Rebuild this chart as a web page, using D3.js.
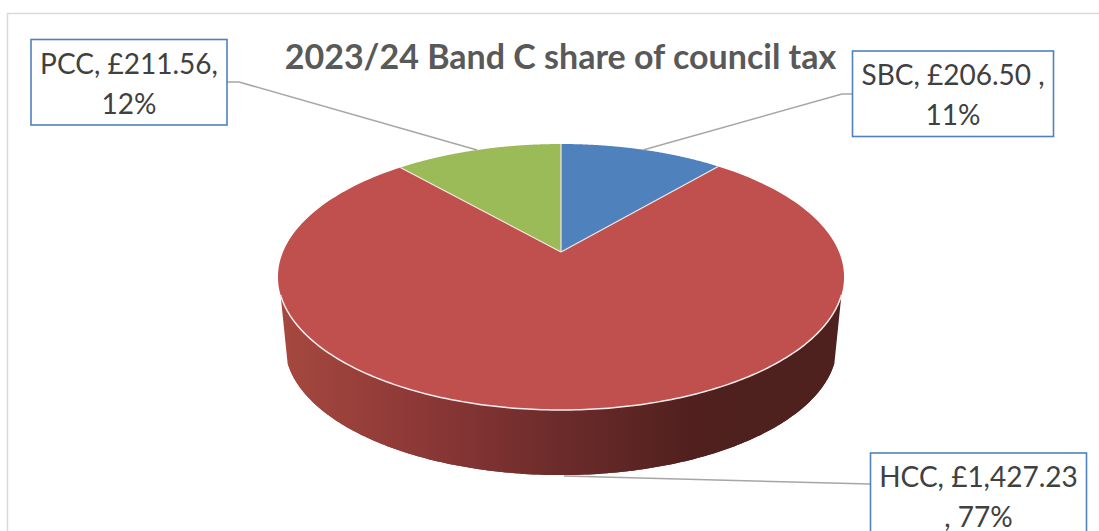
<!DOCTYPE html>
<html>
<head>
<meta charset="utf-8">
<title>2023/24 Band C share of council tax</title>
<script src="https://cdnjs.cloudflare.com/ajax/libs/d3/7.8.5/d3.min.js"></script>
<style>
  html, body { margin: 0; padding: 0; background: #fff; overflow: hidden; }
  svg { display: block; }
  text { font-family: Lato, "Open Sans", sans-serif; }
</style>
</head>
<body>
<svg id="chart" width="1099" height="531"></svg>
<script>
// Council tax per precept body (pounds, Band C, 2023/24)
const authorities = ["SBC", "HCC", "PCC"];
const amounts = [206.50, 1427.23, 211.56];
const sliceColours = ["#4f81bd", "#c0504d", "#9bbb59"];
const labelLines = [
  ["SBC, £206.50 ,", "11%"],
  ["HCC, £1,427.23", ", 77%"],
  ["PCC, £211.56,", "12%"]
];
const chartTitle = "2023/24 Band C share of council tax";

const svg = d3.select("#chart");
const width = 1099, height = 531;

// Projection of the pie's circular disc onto the page, with perspective
const centre = { x: 561, y: 252 };
const radiusX = 278, radiusY = 128.3, tilt = 0.188;
const baseScale = 0.975, baseCentreY = 321;

function rimPoint(angle, scale, originY) {
  const u = Math.sin(angle), v = -Math.cos(angle), w = 1 - tilt * v;
  return [centre.x + scale * radiusX * u / w, originY + scale * radiusY * v / w];
}
const topRim = a => rimPoint(a, 1, centre.y);
const baseRim = a => rimPoint(a, baseScale, baseCentreY);
const sweep = (a0, a1, n = 180) => d3.range(n + 1).map(i => a0 + (a1 - a0) * i / n);
const line = d3.line();

// Chart frame
svg.append("path")
  .attr("d", line([[7.5, height], [7.5, 13.5], [width, 13.5]]))
  .attr("fill", "none").attr("stroke", "#d9d9d9").attr("stroke-width", 1.5);

// Title
svg.append("text")
  .attr("x", 560.5).attr("y", 69)
  .attr("text-anchor", "middle")
  .attr("font-size", 34).attr("font-weight", 700).attr("fill", "#595959")
  .text(chartTitle);

const arcs = d3.pie().sort(null)(amounts);

// Side wall of the disc, lit from the left
const shade = svg.append("defs").append("linearGradient")
  .attr("id", "wallShade").attr("gradientUnits", "userSpaceOnUse")
  .attr("x1", 280).attr("x2", 845).attr("y1", 0).attr("y2", 0);
[[0, "#a6483f"], [0.25, "#8c3837"], [0.5, "#6b2b2a"], [0.74, "#4f201e"], [1, "#4e201e"]]
  .forEach(([o, c]) => shade.append("stop").attr("offset", o).attr("stop-color", c));

const deg = Math.PI / 180;
const wallStart = 108.4 * deg, wallEnd = 251.6 * deg;
svg.append("path")
  .attr("d", line(sweep(wallStart, wallEnd).map(topRim)
    .concat(sweep(wallEnd, wallStart).map(baseRim))) + "Z")
  .attr("fill", "url(#wallShade)");

// Lower part of the disc, behind the top face
svg.append("path")
  .attr("d", line(sweep(wallStart, wallEnd).map(baseRim)) + "Z")
  .attr("fill", "url(#wallShade)");

// Top face slices
svg.append("g").selectAll("path").data(arcs).join("path")
  .attr("d", d => line([[centre.x, centre.y]].concat(sweep(d.startAngle, d.endAngle).map(topRim))) + "Z")
  .attr("fill", (d, i) => sliceColours[i]);

// Pale seams between slices and along the front rim
svg.append("g").selectAll("path").data(arcs).join("path")
  .attr("d", d => line([topRim(d.startAngle), [centre.x, centre.y]]))
  .attr("fill", "none").attr("stroke", "#f2e6e4").attr("stroke-width", 1.2);
svg.append("path")
  .attr("d", line(sweep(wallStart, wallEnd).map(topRim)))
  .attr("fill", "none").attr("stroke", "#f6eeee").attr("stroke-width", 1.5);

// Callout boxes with leader lines
const callouts = [
  { box: [852.5, 51, 201, 85.5], leader: [[852, 94], [842, 94], [643, 150]] },
  { box: [870.5, 453, 216, 85], leader: [[870, 484], [564, 476]] },
  { box: [31, 39.5, 196, 85.5], leader: [[227, 82], [239, 82], [477, 150]] }
];
const labels = svg.append("g").selectAll("g").data(callouts).join("g");
labels.append("path")
  .attr("d", d => line(d.leader))
  .attr("fill", "none").attr("stroke", "#a6a6a6").attr("stroke-width", 1.5);
labels.append("rect")
  .attr("x", d => d.box[0]).attr("y", d => d.box[1])
  .attr("width", d => d.box[2]).attr("height", d => d.box[3])
  .attr("fill", "#fff").attr("stroke", "#4f81bd").attr("stroke-width", 1.6);
labels.each(function (d, i) {
  d3.select(this).selectAll("text").data(labelLines[i]).join("text")
    .attr("x", d.box[0] + d.box[2] / 2)
    .attr("y", (t, j) => d.box[1] + 34 + j * 40)
    .attr("text-anchor", "middle")
    .attr("font-size", 28).attr("fill", "#404040")
    .text(t => t);
});
</script>
</body>
</html>
